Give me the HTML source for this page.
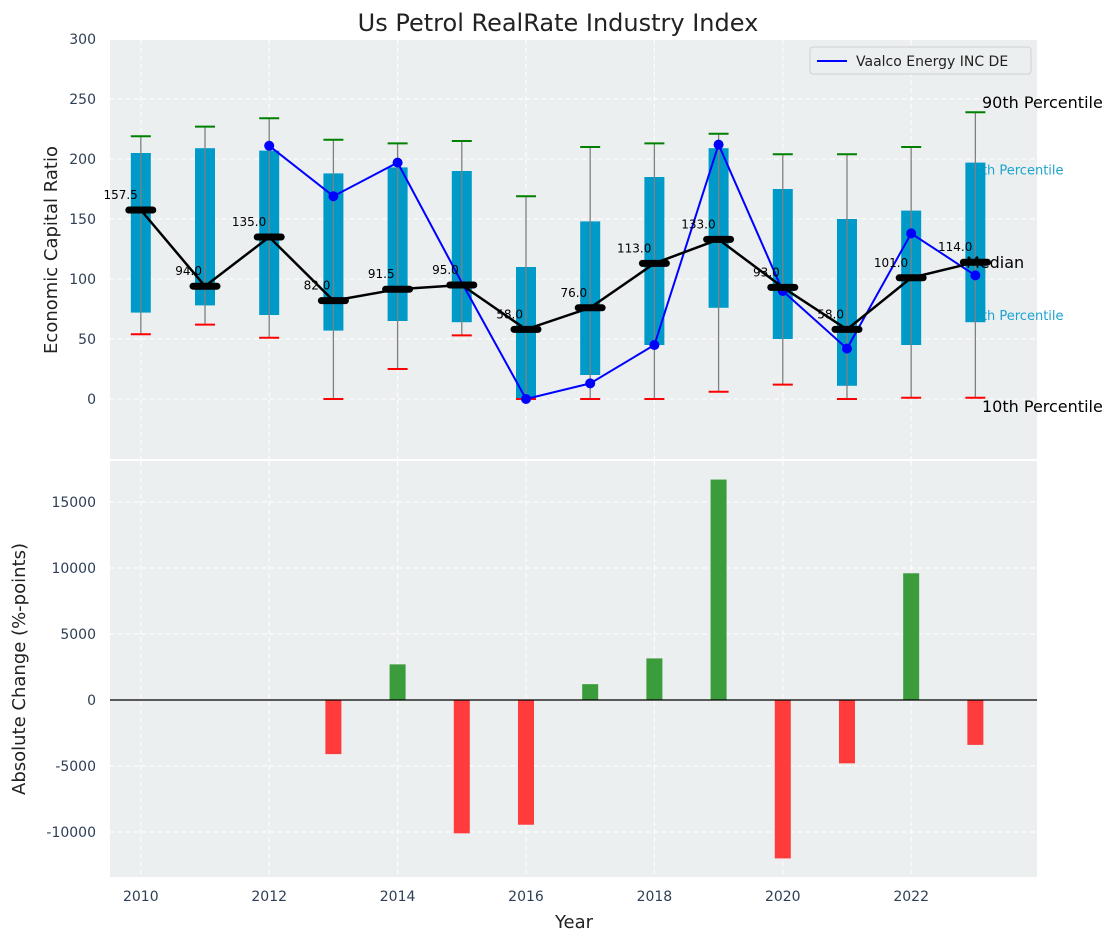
<!DOCTYPE html>
<html><head><meta charset="utf-8"><style>
body{margin:0;background:#fff;font-family:"Liberation Sans","DejaVu Sans",sans-serif;}
svg text{font-family:"DejaVu Sans","Liberation Sans",sans-serif;}
</style></head><body>
<svg id="c" width="1117" height="942" xmlns="http://www.w3.org/2000/svg"></svg>
<script>
const years=[2010,2011,2012,2013,2014,2015,2016,2017,2018,2019,2020,2021,2022,2023];
const p10=[54,62,51,0,25,53,0,0,0,6,12,0,1,1];
const p25=[72,78,70,57,65,64,0,20,45,76,50,11,45,64];
const medians=[157.5,94,135,82,91.5,95,58,76,113,133,93,58,101,114];
const p75=[205,209,207,188,193,190,110,148,185,209,175,150,157,197];
const p90=[219,227,234,216,213,215,169,210,213,221,204,204,210,239];
const companyVals=[null,null,211,169,197,97,0,13,45,212,90,42,138,103];
const changes=[null,null,null,-4100,2700,-10100,-9450,1200,3150,16700,-12000,-4800,9600,-3400];
const yTicksTop=[0,50,100,150,200,250,300];
const yTicksBot=[-10000,-5000,0,5000,10000,15000];
const xTicks=[2010,2012,2014,2016,2018,2020,2022];

const NS="http://www.w3.org/2000/svg";
const svg=document.getElementById('c');
function el(t,a,p){const e=document.createElementNS(NS,t);for(const k in a)e.setAttribute(k,a[k]);(p||svg).appendChild(e);return e;}
const L=110,R=1037,T1=40,B1=459,T2=461,B2=877;
const x=v=>L+(v-2009.52)/(2023.96-2009.52)*(R-L);
const y1=v=>399-v*1.2;
const y2=v=>700-v*0.0132;

let e=el('rect',{x:L,y:T1,width:R-L,height:B1-T1,fill:'#eceff0'});

e=el('rect',{x:L,y:T2,width:R-L,height:B2-T2,fill:'#eceff0'});


xTicks.forEach(t=>{
  el('line',{x1:x(t),x2:x(t),y1:T1,y2:B1,stroke:'#fff','stroke-dasharray':'5,3','stroke-width':1});
  el('line',{x1:x(t),x2:x(t),y1:T2,y2:B2,stroke:'#fff','stroke-dasharray':'5,3','stroke-width':1});
  const tx=el('text',{x:x(t),y:901,'font-size':14,fill:'#2e3f55','text-anchor':'middle'});tx.textContent=t;
  
});
yTicksTop.forEach(t=>{
  el('line',{x1:L,x2:R,y1:y1(t),y2:y1(t),stroke:'#fff','stroke-dasharray':'5,3'});
  const tx=el('text',{x:96,y:y1(t)+5,'font-size':14,fill:'#2e3f55','text-anchor':'end'});tx.textContent=t;
  
});
yTicksBot.forEach(t=>{
  el('line',{x1:L,x2:R,y1:y2(t),y2:y2(t),stroke:'#fff','stroke-dasharray':'5,3'});
  const tx=el('text',{x:96,y:y2(t)+5,'font-size':14,fill:'#2e3f55','text-anchor':'end'});tx.textContent=t;
  
});

const lx=x(2023)-10;
[['75th Percentile',p75[13],12],['25th Percentile',p25[13],-2]].forEach(([s,v,dy])=>{
  const tx=el('text',{x:lx,y:y1(v)+dy,'font-size':13,fill:'#1ba3d0'});tx.textContent=s;
  
});

const bw=20,cw=20;
years.forEach((yr,i)=>{
  const cx=x(yr);
  let b=el('rect',{x:cx-bw/2,y:y1(p75[i]),width:bw,height:y1(p25[i])-y1(p75[i]),fill:'#009ac9'});
  
  let w=el('line',{x1:cx,x2:cx,y1:y1(p10[i]),y2:y1(p90[i]),stroke:'#808080','stroke-width':1.3});
  
  let c1=el('line',{x1:cx-cw/2,x2:cx+cw/2,y1:y1(p90[i]),y2:y1(p90[i]),stroke:'green','stroke-width':2});
  
  let c2=el('line',{x1:cx-cw/2,x2:cx+cw/2,y1:y1(p10[i]),y2:y1(p10[i]),stroke:'red','stroke-width':2});
  
});

let pts=[];years.forEach((yr,i)=>{if(companyVals[i]!==null)pts.push(x(yr)+','+y1(companyVals[i]));});
e=el('polyline',{points:pts.join(' '),fill:'none',stroke:'blue','stroke-width':2});

years.forEach((yr,i)=>{if(companyVals[i]!==null&&yr!==2015){
  const m=el('circle',{cx:x(yr),cy:y1(companyVals[i]),r:5,fill:'blue'});
  }});

e=el('polyline',{points:years.map((yr,i)=>x(yr)+','+y1(medians[i])).join(' '),fill:'none',stroke:'#000','stroke-width':2.5});

years.forEach((yr,i)=>{
  const cx=x(yr),cy=y1(medians[i]);
  const m=el('line',{x1:cx-12,x2:cx+12,y1:cy,y2:cy,stroke:'#000','stroke-width':7,'stroke-linecap':'round'});
  
  const tx=el('text',{x:cx-3,y:cy-11,'font-size':12,fill:'#000','text-anchor':'end'});tx.textContent=medians[i].toFixed(1);
  
});
[['90th Percentile',p90[13],982,-4],['Median',medians[13],966,6],['10th Percentile',p10[13],982,14]].forEach(([s,v,xx,dy])=>{
  const tx=el('text',{x:xx,y:y1(v)+dy,'font-size':16,fill:'#000'});tx.textContent=s;
  
});

years.forEach((yr,i)=>{if(changes[i]===null)return;
  const v=changes[i];const b=el('rect',{x:x(yr)-8,y:Math.min(y2(0),y2(v)),width:16,height:Math.abs(y2(v)-y2(0)),fill:v>=0?'#3a9c3a':'#ff3b3b'});
  });
el('line',{x1:L,x2:R,y1:y2(0),y2:y2(0),stroke:'#000','stroke-width':1.2});

const lg=el('g',{});
el('rect',{x:810,y:47,width:221,height:27,rx:3,fill:'#eceff0',stroke:'#d0d0d0'},lg);
el('line',{x1:817,x2:847,y1:61,y2:61,stroke:'blue','stroke-width':2},lg);
let t=el('text',{x:856,y:66,'font-size':14,fill:'#222'},lg);t.textContent='Vaalco Energy INC DE';

t=el('text',{x:558,y:31,'font-size':24,fill:'#222','text-anchor':'middle'});t.textContent='Us Petrol RealRate Industry Index';

t=el('text',{x:0,y:0,'font-size':18,fill:'#222','text-anchor':'middle',transform:'translate(57,250) rotate(-90)'});t.textContent='Economic Capital Ratio';

t=el('text',{x:0,y:0,'font-size':18,fill:'#222','text-anchor':'middle',transform:'translate(25,669) rotate(-90)'});t.textContent='Absolute Change (%-points)';

t=el('text',{x:574,y:928,'font-size':18,fill:'#222','text-anchor':'middle'});t.textContent='Year';

</script>
</body></html>
